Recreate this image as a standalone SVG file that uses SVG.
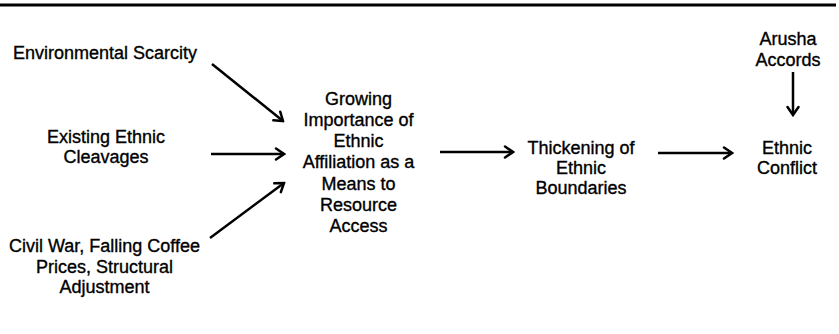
<svg xmlns="http://www.w3.org/2000/svg" width="839" height="334" viewBox="0 0 839 334">
<style>
text{font-family:"Liberation Sans",Arial,sans-serif;font-size:18px;fill:#000;stroke:#000;stroke-width:0.35;text-anchor:middle}
.c{stroke:#000;stroke-width:2.5;fill:none;marker-end:url(#ah)}
</style>
<defs>
<marker id="ah" viewBox="-11 -7 13 14" refX="0" refY="0" markerWidth="13" markerHeight="14" markerUnits="userSpaceOnUse" orient="auto">
<path d="M-8,-5.5 L0,0 L-8,5.5" fill="none" stroke="#000" stroke-width="2.5" stroke-linecap="round" stroke-linejoin="miter"/>
</marker>
</defs>
<rect width="839" height="334" fill="#fff"/>
<line x1="0" y1="5" x2="836" y2="5" stroke="#000" stroke-width="3"/>
<g id="env"><text x="105" y="59">Environmental Scarcity</text></g>
<g id="cleav"><text x="106" y="143">Existing Ethnic</text><text x="106" y="163">Cleavages</text></g>
<g id="civil"><text x="104.5" y="252">Civil War, Falling Coffee</text><text x="104.5" y="273">Prices, Structural</text><text x="104.5" y="293">Adjustment</text></g>
<g id="growing"><text x="358.5" y="105">Growing</text><text x="358.5" y="126">Importance of</text><text x="358.5" y="147">Ethnic</text><text x="358.5" y="168">Affiliation as a</text><text x="358.5" y="190">Means to</text><text x="358.5" y="211">Resource</text><text x="358.5" y="232">Access</text></g>
<g id="thick"><text x="581" y="154">Thickening of</text><text x="581" y="174">Ethnic</text><text x="581" y="194">Boundaries</text></g>
<g id="conflict"><text x="787" y="154">Ethnic</text><text x="787" y="174">Conflict</text></g>
<g id="arusha"><text x="788" y="45">Arusha</text><text x="788" y="66">Accords</text></g>
<g id="connectors">
<line class="c" x1="212" y1="64" x2="283" y2="121"/>
<line class="c" x1="211" y1="154" x2="284" y2="154"/>
<line class="c" x1="210" y1="238" x2="284" y2="183"/>
<line class="c" x1="440" y1="152" x2="513" y2="152"/>
<line class="c" x1="658" y1="153" x2="732" y2="153"/>
<line class="c" x1="793" y1="72" x2="793" y2="115"/>
</g>
</svg>
